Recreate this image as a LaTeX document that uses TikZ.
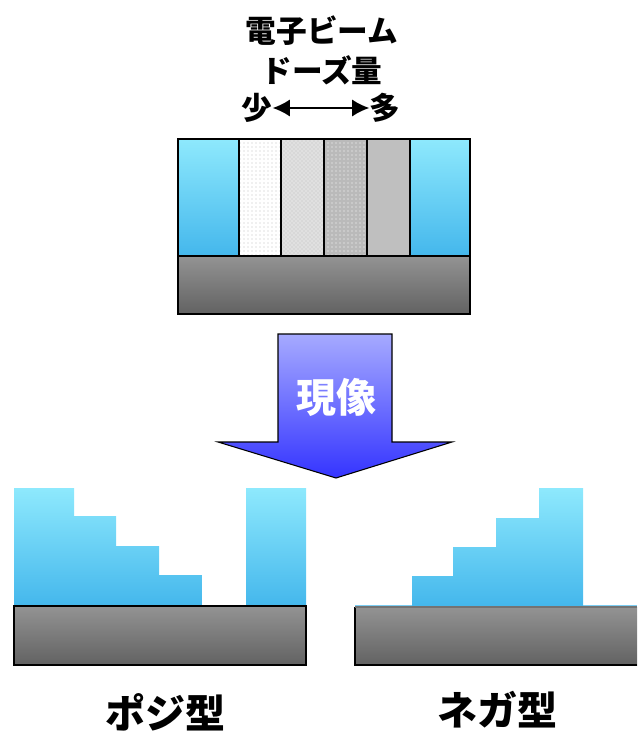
\documentclass[tikz,border=0pt]{standalone}
\usepackage{fontspec}
\newfontfamily\jpfont{Noto Sans CJK JP}
\usetikzlibrary{positioning, arrows.meta, patterns}
\definecolor{resisttop}{HTML}{8EE9FD}
\definecolor{resistbot}{HTML}{44B7EC}
\definecolor{subtop}{HTML}{939393}
\definecolor{subbot}{HTML}{626262}
\definecolor{devtop}{HTML}{A6AAFF}
\definecolor{devbot}{HTML}{3434FF}
\tikzset{
	resist/.style={top color=resisttop, bottom color=resistbot},
	substrate/.style={top color=subtop, bottom color=subbot},
	edge/.style={draw=black, line width=1.5pt},
	jplabel/.style={font=\jpfont\bfseries\fontsize{23}{25}\selectfont, inner sep=1pt},
	biglabel/.style={font=\jpfont\bfseries\fontsize{30}{32}\selectfont, inner sep=1pt},
}

\begin{document}
\begin{tikzpicture}[x=0.75pt, y=-0.75pt]
			\useasboundingbox (0,0) rectangle (637,731);

			% exposed resist
			\shade[resist] (178,139) rectangle (239,256);
			\shade[resist] (410,139) rectangle (470,256);
			\fill[white] (239,139) rectangle (281,256);
			\fill[pattern=dots, pattern color=black!25] (239,139) rectangle (281,256);
			\fill[black!12] (281,139) rectangle (324,256);
			\fill[pattern=crosshatch dots, pattern color=black!25] (281,139) rectangle (324,256);
			\fill[black!27] (324,139) rectangle (367,256);
			\fill[pattern=dots, pattern color=white] (324,139) rectangle (367,256);
			\fill[black!25] (367,139) rectangle (410,256);
			\shade[substrate] (178,256) rectangle (470,314);
			\draw[edge] (178,139) rectangle (470,314);
			\draw[edge] (178,256) -- (470,256);
			\foreach \x in {239, 281, 324, 367, 410}
				\draw[edge] (\x,139) -- (\x,256);

			\node[jplabel] (ebeam) at (322,31)  {電子ビーム};
			\node[jplabel] (dose)  at (322,70)  {ドーズ量};
			\node[jplabel, inner sep=0pt] (few)  at (257,108) {少};
			\node[jplabel, inner sep=0pt] (many) at (385,108) {多};
			\draw[{Latex[length=13pt, width=13pt]}-{Latex[length=13pt, width=13pt]}, line width=1.6pt] (few) -- (many);

			% development
			\shade[top color=devtop, bottom color=devbot, draw=black, line width=0.8pt]
				(278,334) -- (392,334) -- (392,442) -- (452,442) -- (336,478)
				-- (218,442) -- (278,442) -- cycle;
			\node[biglabel, text=white] (develop) at (336,397) {現像};

			% positive
			\shade[resist] (14,606) -- (14,488) -- (74,488) -- (74,516) -- (116,516) -- (116,546)
				-- (159,546) -- (159,575) -- (202,575) -- (202,606) -- cycle;
			\shade[resist] (246,488) rectangle (306,606);
			\shade[substrate] (14,606) rectangle (306,665);
			\draw[edge] (14,606) rectangle (306,665);
			\node[biglabel] (posi) at (165,712) {ポジ型};

			% negative
			\draw[resistbot!70, line width=1pt] (355,606) -- (637,606);
			\shade[resist] (412,606) -- (412,576) -- (453,576) -- (453,547) -- (496,547) -- (496,518)
				-- (539,518) -- (539,488) -- (583,488) -- (583,606) -- cycle;
			\shade[substrate] (355,607) rectangle (637,665);
			\draw[edge] (637,665) -- (355,665) -- (355,607);
			\draw[black!55, line width=0.8pt] (355,607) -- (637,607);
			\node[biglabel] (nega) at (497,710) {ネガ型};
		\end{tikzpicture}
\end{document}
